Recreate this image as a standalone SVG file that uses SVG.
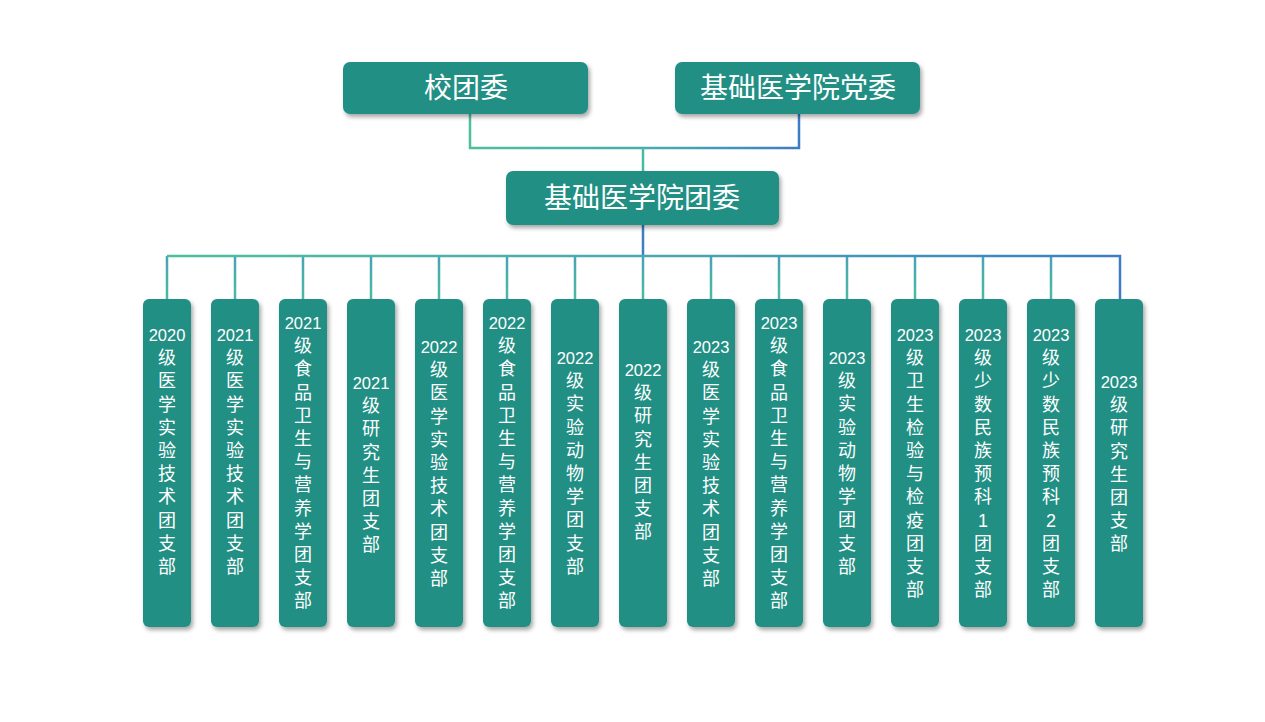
<svg xmlns="http://www.w3.org/2000/svg" width="1265" height="722" viewBox="0 0 1265 722">
<defs>
<linearGradient id="gh" gradientUnits="userSpaceOnUse" x1="167" y1="0" x2="1120" y2="0">
<stop offset="0" stop-color="#4cbf9d"/><stop offset="0.5" stop-color="#48a9b0"/><stop offset="1" stop-color="#3d7cc4"/>
</linearGradient>
<linearGradient id="gv" gradientUnits="userSpaceOnUse" x1="0" y1="256" x2="0" y2="299">
<stop offset="0" stop-color="#48a3b6"/><stop offset="1" stop-color="#4cbaa2"/>
</linearGradient>
<linearGradient id="gt" gradientUnits="userSpaceOnUse" x1="470" y1="0" x2="800" y2="0">
<stop offset="0" stop-color="#4cbf9d"/><stop offset="0.6" stop-color="#48a9b0"/><stop offset="1" stop-color="#3d7cc4"/>
</linearGradient>
<filter id="sh" x="-20%" y="-10%" width="150%" height="130%">
<feDropShadow dx="2" dy="3" stdDeviation="2" flood-color="#000" flood-opacity="0.35"/>
</filter>
<style>
.box{fill:#238f84;filter:url(#sh)}
.big{font-family:"Noto Sans CJK SC","Liberation Sans",sans-serif;font-size:28px;fill:#fff;text-anchor:middle}
.col{font-family:"Liberation Sans","Noto Sans CJK SC",sans-serif;font-size:18px;fill:#fff;text-anchor:middle}
.num{font-size:16.5px}
.ln{fill:none;stroke-width:2.5}
</style>
</defs>
<g id="connectors">
<path class="ln" stroke="url(#gt)" d="M470 114 V148 H799 V114"/>
<path class="ln" stroke="#4cb8a6" d="M643 148 V171"/>
<path class="ln" stroke="#3d7fc2" d="M643 225 V256"/>
<path class="ln" stroke="url(#gv)" d="M167 256 V299 M235 256 V299 M303 256 V299 M371 256 V299 M439 256 V299 M507 256 V299 M575 256 V299 M643 256 V299 M711 256 V299 M779 256 V299 M847 256 V299 M915 256 V299 M983 256 V299 M1051 256 V299"/>
<path class="ln" stroke="url(#gh)" d="M167 256 H1120 V299"/>
</g>
<g id="n-xtw"><rect class="box" x="343" y="62" width="245" height="52" rx="7"/><text class="big" x="466" y="98">校团委</text></g>
<g id="n-dw"><rect class="box" x="675" y="62" width="245" height="52" rx="7"/><text class="big" x="798" y="98">基础医学院党委</text></g>
<g id="n-tw"><rect class="box" x="506" y="171" width="273" height="54" rx="7"/><text class="big" x="642" y="208">基础医学院团委</text></g>
<g id="b1"><rect class="box" x="143" y="299" width="48" height="328" rx="6"/><text class="col" y="341"><tspan class="num" x="167">2020</tspan><tspan x="167" dy="23.2">级</tspan><tspan x="167" dy="23.2">医</tspan><tspan x="167" dy="23.2">学</tspan><tspan x="167" dy="23.2">实</tspan><tspan x="167" dy="23.2">验</tspan><tspan x="167" dy="23.2">技</tspan><tspan x="167" dy="23.2">术</tspan><tspan x="167" dy="23.2">团</tspan><tspan x="167" dy="23.2">支</tspan><tspan x="167" dy="23.2">部</tspan></text></g>
<g id="b2"><rect class="box" x="211" y="299" width="48" height="328" rx="6"/><text class="col" y="341"><tspan class="num" x="235">2021</tspan><tspan x="235" dy="23.2">级</tspan><tspan x="235" dy="23.2">医</tspan><tspan x="235" dy="23.2">学</tspan><tspan x="235" dy="23.2">实</tspan><tspan x="235" dy="23.2">验</tspan><tspan x="235" dy="23.2">技</tspan><tspan x="235" dy="23.2">术</tspan><tspan x="235" dy="23.2">团</tspan><tspan x="235" dy="23.2">支</tspan><tspan x="235" dy="23.2">部</tspan></text></g>
<g id="b3"><rect class="box" x="279" y="299" width="48" height="328" rx="6"/><text class="col" y="329"><tspan class="num" x="303">2021</tspan><tspan x="303" dy="23.2">级</tspan><tspan x="303" dy="23.2">食</tspan><tspan x="303" dy="23.2">品</tspan><tspan x="303" dy="23.2">卫</tspan><tspan x="303" dy="23.2">生</tspan><tspan x="303" dy="23.2">与</tspan><tspan x="303" dy="23.2">营</tspan><tspan x="303" dy="23.2">养</tspan><tspan x="303" dy="23.2">学</tspan><tspan x="303" dy="23.2">团</tspan><tspan x="303" dy="23.2">支</tspan><tspan x="303" dy="23.2">部</tspan></text></g>
<g id="b4"><rect class="box" x="347" y="299" width="48" height="328" rx="6"/><text class="col" y="389"><tspan class="num" x="371">2021</tspan><tspan x="371" dy="23.2">级</tspan><tspan x="371" dy="23.2">研</tspan><tspan x="371" dy="23.2">究</tspan><tspan x="371" dy="23.2">生</tspan><tspan x="371" dy="23.2">团</tspan><tspan x="371" dy="23.2">支</tspan><tspan x="371" dy="23.2">部</tspan></text></g>
<g id="b5"><rect class="box" x="415" y="299" width="48" height="328" rx="6"/><text class="col" y="353"><tspan class="num" x="439">2022</tspan><tspan x="439" dy="23.2">级</tspan><tspan x="439" dy="23.2">医</tspan><tspan x="439" dy="23.2">学</tspan><tspan x="439" dy="23.2">实</tspan><tspan x="439" dy="23.2">验</tspan><tspan x="439" dy="23.2">技</tspan><tspan x="439" dy="23.2">术</tspan><tspan x="439" dy="23.2">团</tspan><tspan x="439" dy="23.2">支</tspan><tspan x="439" dy="23.2">部</tspan></text></g>
<g id="b6"><rect class="box" x="483" y="299" width="48" height="328" rx="6"/><text class="col" y="329"><tspan class="num" x="507">2022</tspan><tspan x="507" dy="23.2">级</tspan><tspan x="507" dy="23.2">食</tspan><tspan x="507" dy="23.2">品</tspan><tspan x="507" dy="23.2">卫</tspan><tspan x="507" dy="23.2">生</tspan><tspan x="507" dy="23.2">与</tspan><tspan x="507" dy="23.2">营</tspan><tspan x="507" dy="23.2">养</tspan><tspan x="507" dy="23.2">学</tspan><tspan x="507" dy="23.2">团</tspan><tspan x="507" dy="23.2">支</tspan><tspan x="507" dy="23.2">部</tspan></text></g>
<g id="b7"><rect class="box" x="551" y="299" width="48" height="328" rx="6"/><text class="col" y="364"><tspan class="num" x="575">2022</tspan><tspan x="575" dy="23.2">级</tspan><tspan x="575" dy="23.2">实</tspan><tspan x="575" dy="23.2">验</tspan><tspan x="575" dy="23.2">动</tspan><tspan x="575" dy="23.2">物</tspan><tspan x="575" dy="23.2">学</tspan><tspan x="575" dy="23.2">团</tspan><tspan x="575" dy="23.2">支</tspan><tspan x="575" dy="23.2">部</tspan></text></g>
<g id="b8"><rect class="box" x="619" y="299" width="48" height="328" rx="6"/><text class="col" y="376"><tspan class="num" x="643">2022</tspan><tspan x="643" dy="23.2">级</tspan><tspan x="643" dy="23.2">研</tspan><tspan x="643" dy="23.2">究</tspan><tspan x="643" dy="23.2">生</tspan><tspan x="643" dy="23.2">团</tspan><tspan x="643" dy="23.2">支</tspan><tspan x="643" dy="23.2">部</tspan></text></g>
<g id="b9"><rect class="box" x="687" y="299" width="48" height="328" rx="6"/><text class="col" y="353"><tspan class="num" x="711">2023</tspan><tspan x="711" dy="23.2">级</tspan><tspan x="711" dy="23.2">医</tspan><tspan x="711" dy="23.2">学</tspan><tspan x="711" dy="23.2">实</tspan><tspan x="711" dy="23.2">验</tspan><tspan x="711" dy="23.2">技</tspan><tspan x="711" dy="23.2">术</tspan><tspan x="711" dy="23.2">团</tspan><tspan x="711" dy="23.2">支</tspan><tspan x="711" dy="23.2">部</tspan></text></g>
<g id="b10"><rect class="box" x="755" y="299" width="48" height="328" rx="6"/><text class="col" y="329"><tspan class="num" x="779">2023</tspan><tspan x="779" dy="23.2">级</tspan><tspan x="779" dy="23.2">食</tspan><tspan x="779" dy="23.2">品</tspan><tspan x="779" dy="23.2">卫</tspan><tspan x="779" dy="23.2">生</tspan><tspan x="779" dy="23.2">与</tspan><tspan x="779" dy="23.2">营</tspan><tspan x="779" dy="23.2">养</tspan><tspan x="779" dy="23.2">学</tspan><tspan x="779" dy="23.2">团</tspan><tspan x="779" dy="23.2">支</tspan><tspan x="779" dy="23.2">部</tspan></text></g>
<g id="b11"><rect class="box" x="823" y="299" width="48" height="328" rx="6"/><text class="col" y="364"><tspan class="num" x="847">2023</tspan><tspan x="847" dy="23.2">级</tspan><tspan x="847" dy="23.2">实</tspan><tspan x="847" dy="23.2">验</tspan><tspan x="847" dy="23.2">动</tspan><tspan x="847" dy="23.2">物</tspan><tspan x="847" dy="23.2">学</tspan><tspan x="847" dy="23.2">团</tspan><tspan x="847" dy="23.2">支</tspan><tspan x="847" dy="23.2">部</tspan></text></g>
<g id="b12"><rect class="box" x="891" y="299" width="48" height="328" rx="6"/><text class="col" y="341"><tspan class="num" x="915">2023</tspan><tspan x="915" dy="23.2">级</tspan><tspan x="915" dy="23.2">卫</tspan><tspan x="915" dy="23.2">生</tspan><tspan x="915" dy="23.2">检</tspan><tspan x="915" dy="23.2">验</tspan><tspan x="915" dy="23.2">与</tspan><tspan x="915" dy="23.2">检</tspan><tspan x="915" dy="23.2">疫</tspan><tspan x="915" dy="23.2">团</tspan><tspan x="915" dy="23.2">支</tspan><tspan x="915" dy="23.2">部</tspan></text></g>
<g id="b13"><rect class="box" x="959" y="299" width="48" height="328" rx="6"/><text class="col" y="341"><tspan class="num" x="983">2023</tspan><tspan x="983" dy="23.2">级</tspan><tspan x="983" dy="23.2">少</tspan><tspan x="983" dy="23.2">数</tspan><tspan x="983" dy="23.2">民</tspan><tspan x="983" dy="23.2">族</tspan><tspan x="983" dy="23.2">预</tspan><tspan x="983" dy="23.2">科</tspan><tspan x="983" dy="23.2">1</tspan><tspan x="983" dy="23.2">团</tspan><tspan x="983" dy="23.2">支</tspan><tspan x="983" dy="23.2">部</tspan></text></g>
<g id="b14"><rect class="box" x="1027" y="299" width="48" height="328" rx="6"/><text class="col" y="341"><tspan class="num" x="1051">2023</tspan><tspan x="1051" dy="23.2">级</tspan><tspan x="1051" dy="23.2">少</tspan><tspan x="1051" dy="23.2">数</tspan><tspan x="1051" dy="23.2">民</tspan><tspan x="1051" dy="23.2">族</tspan><tspan x="1051" dy="23.2">预</tspan><tspan x="1051" dy="23.2">科</tspan><tspan x="1051" dy="23.2">2</tspan><tspan x="1051" dy="23.2">团</tspan><tspan x="1051" dy="23.2">支</tspan><tspan x="1051" dy="23.2">部</tspan></text></g>
<g id="b15"><rect class="box" x="1095" y="299" width="48" height="328" rx="6"/><text class="col" y="388"><tspan class="num" x="1119">2023</tspan><tspan x="1119" dy="23.2">级</tspan><tspan x="1119" dy="23.2">研</tspan><tspan x="1119" dy="23.2">究</tspan><tspan x="1119" dy="23.2">生</tspan><tspan x="1119" dy="23.2">团</tspan><tspan x="1119" dy="23.2">支</tspan><tspan x="1119" dy="23.2">部</tspan></text></g>
</svg>
